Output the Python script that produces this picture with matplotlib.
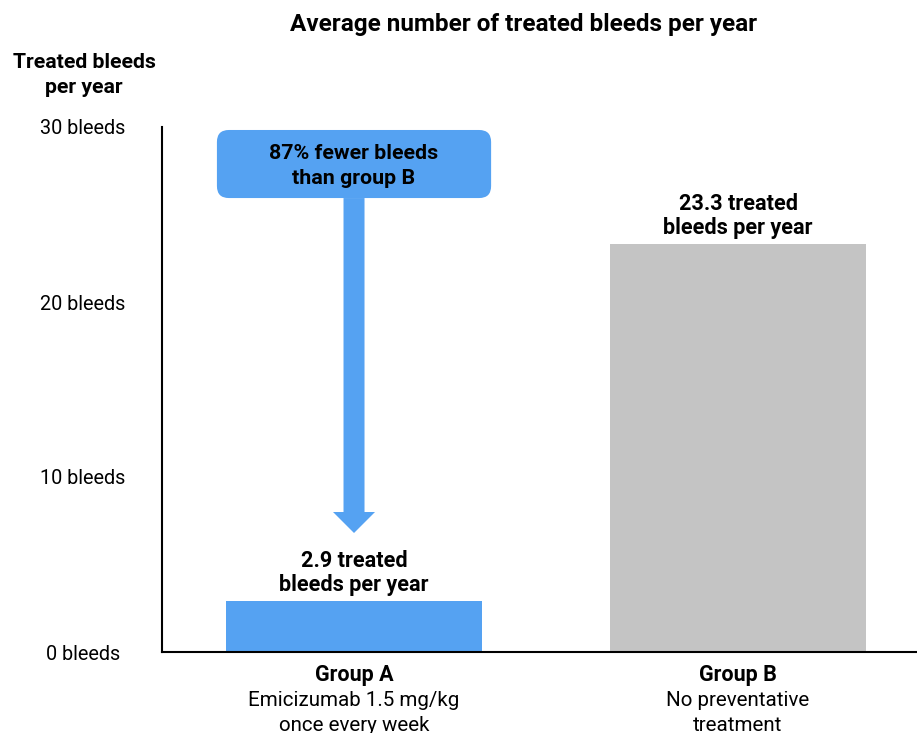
import matplotlib.pyplot as plt
from matplotlib.patches import FancyBboxPatch, FancyArrow
from matplotlib.transforms import blended_transform_factory

plt.rcParams['font.family'] = ['Roboto', 'DejaVu Sans']

groups = ["Group A", "Group B"]
group_notes = ["Emicizumab 1.5 mg/kg\nonce every week", "No preventative\ntreatment"]
bleeds = [2.9, 23.3]
bar_labels = ["2.9 treated\nbleeds per year", "23.3 treated\nbleeds per year"]
bar_colors = ["#55A2F2", "#C4C4C4"]
y_ticks = [0, 10, 20, 30]
y_tick_labels = ["0 bleeds", "10 bleeds", "20 bleeds", "30 bleeds"]
callout_text = "87% fewer bleeds\nthan group B"

W, H = 917, 733
fig = plt.figure(figsize=(W / 100, H / 100), dpi=100)
ax = fig.add_axes([162 / W, (H - 652) / H, (W - 162) / W, 525 / H])

x = list(range(len(groups)))
ax.bar(x, bleeds, width=0.667, color=bar_colors, zorder=2)
ax.set_xlim(-0.5, 1.466)
ax.set_ylim(0, 30)

for side in ["top", "right"]:
    ax.spines[side].set_visible(False)
ax.spines["left"].set_linewidth(1.5)
ax.spines["bottom"].set_linewidth(1.5)

ax.set_xticks([])
ax.set_yticks(y_ticks)
ax.set_yticklabels(y_tick_labels, fontsize=14.3, ha="center")
ax.tick_params(axis="y", length=0, pad=57)

# values above bars
for xi, val, lab in zip(x, bleeds, bar_labels):
    ax.text(xi, val + 0.3, lab, ha="center", va="bottom", fontsize=15.6,
            fontweight="bold", linespacing=1.12)

# group names under the axis
trans = blended_transform_factory(ax.transData, ax.transAxes)
for xi, g, note in zip(x, groups, group_notes):
    ax.text(xi, -0.043, g, transform=trans, ha="center", va="center",
            fontsize=15.5, fontweight="bold")
    ax.text(xi, -0.074, note, transform=trans, ha="center", va="top",
            fontsize=14.8, linespacing=1.38)

# callout box with arrow down to group A
px_x = 1 / 384
px_y = 1 / 17.5
box_left, box_right = -0.357, 0.357
box_bot, box_top = 25.94, 29.83
box = FancyBboxPatch((box_left, box_bot), box_right - box_left, box_top - box_bot,
                     boxstyle="round,pad=0,rounding_size=%f" % (12 * px_x),
                     mutation_aspect=px_y / px_x, facecolor=bar_colors[0],
                     edgecolor="none", zorder=3)
ax.add_patch(box)
ax.text(0, (box_bot + box_top) / 2 - 0.1, callout_text, ha="center", va="center",
        fontsize=15.4, fontweight="bold", linespacing=1.4, zorder=4)

arrow_tip = 6.8
ax.add_patch(FancyArrow(0, box_bot, 0, arrow_tip - box_bot, width=21 * px_x,
                        head_width=42 * px_x, head_length=21 * px_y,
                        length_includes_head=True, color=bar_colors[0],
                        linewidth=0, zorder=3))

fig.text(524 / W, 1 - 25 / H, "Average number of treated bleeds per year",
         ha="center", va="center", fontsize=17.5, fontweight="bold")
fig.text(84 / W, 1 - 75 / H, "Treated bleeds\nper year", ha="center", va="center",
         fontsize=15.3, fontweight="bold", linespacing=1.45)

fig.savefig("out.png", dpi=100)
